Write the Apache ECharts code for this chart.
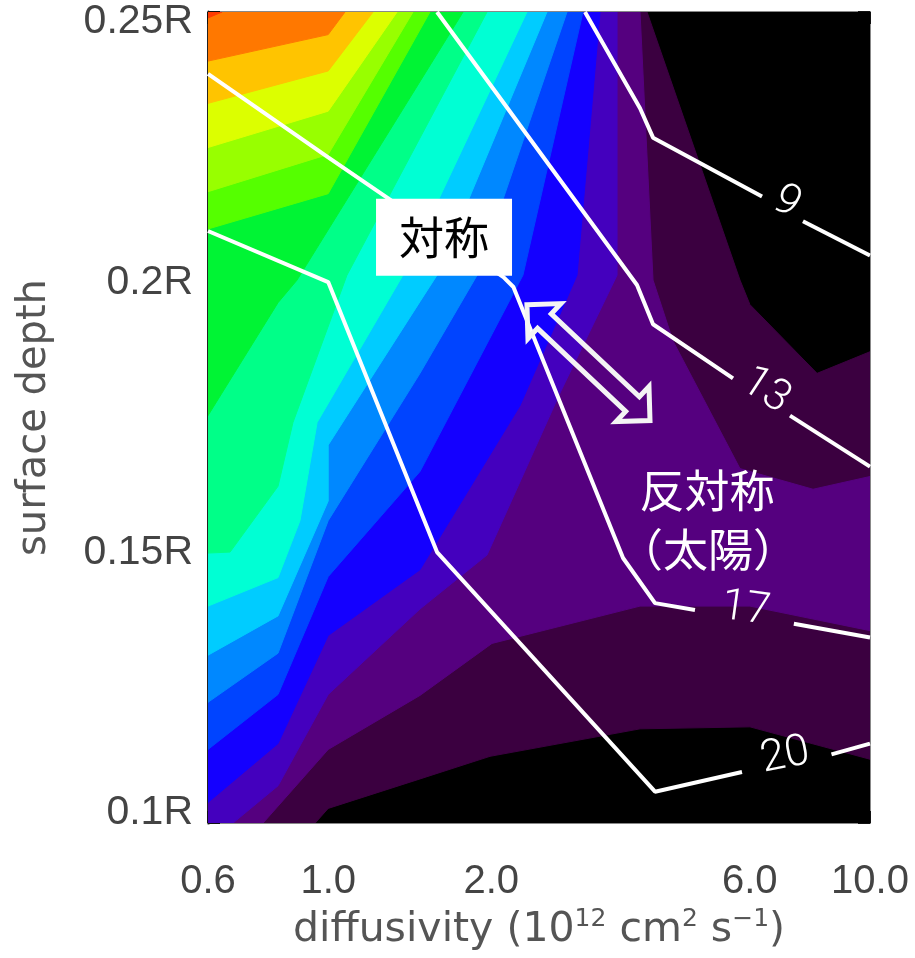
<!DOCTYPE html>
<html><head><meta charset="utf-8">
<script src="https://cdn.jsdelivr.net/npm/echarts@6/dist/echarts.min.js"></script>
<style>html,body{margin:0;padding:0;background:#fff}#c{width:915px;height:958px}</style>
</head><body><div id="c"></div>
<script>
// ---- axis ticks ----
const xTicks = [0.6, 1, 2, 6, 10];
const xTickLabels = ['0.6', '1.0', '2.0', '6.0', '10.0'];
const yTicks = [0.1, 0.15, 0.2, 0.25];
const yTickLabels = ['0.1R', '0.15R', '0.2R', '0.25R'];

// ---- filled contour levels: region at or above each level (diffusivity, depth) ----
const level0 = [[0.6,0.1],[10,0.1],[10,0.25],[0.6,0.25]];
const level1 = [[0.6,0.25],[3.877,0.25],[5.755,0.20042],[6.004,0.19588],[7.985,0.18317],[10,0.18717],[10,0.11181],[6.004,0.11780],[3.763,0.11743],[1.989,0.11235],[1.477,0.10817],[1.0,0.10272],[0.946,0.1],[0.6,0.1]];
const level2 = [[0.6,0.25],[3.763,0.25],[3.977,0.20042],[4.329,0.18917],[5.755,0.16556],[7.850,0.16174],[10,0.16410],[10,0.13559],[6.004,0.14013],[3.763,0.14013],[2.006,0.13323],[1.477,0.12361],[1.0,0.11362],[0.758,0.1],[0.6,0.1]];
const level3 = [[0.667,0.1],[0.808,0.10690],[1.0,0.12379],[1.477,0.13959],[1.964,0.14958],[2.678,0.17954],[3.413,0.20133],[3.413,0.25],[0.6,0.25],[0.6,0.1]];
const level4 = [[0.6,0.10381],[0.808,0.11471],[1.0,0.13469],[1.477,0.14685],[2.259,0.17718],[2.879,0.20133],[3.175,0.25],[0.6,0.25]];
const level5 = [[0.6,0.11362],[0.808,0.12379],[1.0,0.14558],[1.477,0.16501],[2.288,0.20133],[2.953,0.25],[0.6,0.25]];
const level6 = [[0.6,0.12234],[0.808,0.13142],[1.0,0.15593],[1.477,0.18317],[1.883,0.20133],[2.759,0.25],[0.6,0.25]];
const level7 = [[0.6,0.13105],[0.808,0.13832],[1.0,0.15956],[1.0,0.16991],[1.477,0.19643],[1.588,0.20133],[2.534,0.25],[0.6,0.25]];
const level8 = [[0.6,0.14013],[0.808,0.14540],[0.887,0.15593],[0.954,0.17409],[1.374,0.20133],[2.327,0.25],[0.6,0.25]];
const level9 = [[0.6,0.14994],[0.659,0.15012],[0.808,0.16229],[0.861,0.17409],[1.083,0.20133],[1.964,0.25],[0.6,0.25]];
const level10 = [[0.6,0.17536],[0.808,0.19625],[0.876,0.20042],[1.774,0.25],[0.6,0.25]];
const level11 = [[0.6,0.20987],[1.0,0.21640],[1.541,0.25],[0.6,0.25]];
const level12 = [[0.6,0.21677],[1.0,0.22367],[1.434,0.25],[0.6,0.25]];
const level13 = [[0.6,0.22494],[1.0,0.23166],[1.340,0.25],[0.6,0.25]];
const level14 = [[0.6,0.23311],[1.0,0.23910],[1.210,0.25],[0.6,0.25]];
const level15 = [[0.6,0.24092],[1.0,0.24582],[1.074,0.25],[0.6,0.25]];
const level16 = [[0.6,0.24891],[0.637,0.25],[0.6,0.25]];
const levelColors = ['#000000','#3b0040','#55007f','#4400be','#1400ff','#0044ff','#0088ff','#00ccff',
  '#00ffd4','#00ff88','#00f434','#55ff00','#98ff00','#dcff00','#ffc400','#ff7800','#ff3c00'];

// ---- white contour lines (null = gap where the label sits) ----
const contour9  = [[2.978,0.25],[3.763,0.23220],[3.977,0.22676],[6.320,0.21586],null,[7.521,0.21132],[10,0.20496]];
const contour13 = [[1.588,0.25],[3.715,0.19952],[3.977,0.19225],[5.587,0.18226],null,[7.118,0.17536],[10,0.16592]];
const contour17 = [[0.6,0.23856],[1.0,0.22312],[2.106,0.20097],[2.197,0.19915],[3.501,0.14903],[4.011,0.14068],[4.753,0.13941],null,[7.236,0.13687],[10,0.13432]];
const contour20 = [[0.6,0.20950],[1.0,0.20006],[1.588,0.15012],[4.011,0.10581],[5.804,0.10944],null,[8.490,0.11271],[10,0.11471]];
const contourNames = ['9', '13', '17', '20'];

// ---- annotations (anchors in data units) ----
const annotationTexts = ['対称', '反対称', '（太陽）'];
const annotationAnchors = [[1.636,0.20823],[5.003,0.16138],[5.024,0.15048]];
const arrowEnds = [[2.327,0.19588],[3.926,0.17445]];

const levels = [level0,level1,level2,level3,level4,level5,level6,level7,level8,level9,level10,level11,level12,level13,level14,level15,level16];
const contours = [contour9, contour13, contour17, contour20];

function tickLabel(v, ticks, labels) {
  let best = 0, bd = Infinity;
  ticks.forEach((t, i) => { const d = Math.abs(t - v); if (d < bd) { bd = d; best = i; } });
  return labels[best];
}

const series = [];
series.push({
  type: 'custom', coordinateSystem: 'cartesian2d', xAxisIndex: 0, yAxisIndex: 0,
  data: levels.map((_, k) => [1, 0.2, k]), encode: { x: 0, y: 1 },
  clip: true, silent: true, animation: false, z: 1,
  renderItem: (params, api) => {
    const k = params.dataIndex;
    return { type: 'polygon', z2: k,
      shape: { points: levels[k].map(p => api.coord(p)) },
      style: { fill: levelColors[k], stroke: levelColors[k], lineWidth: 1 } };
  }
});
contours.forEach(c => {
  let seg = [];
  const segs = [];
  c.forEach(p => { if (p === null) { segs.push(seg); seg = []; } else seg.push(p); });
  segs.push(seg);
  segs.forEach(s => series.push({
    type: 'line', data: s, showSymbol: false, symbol: 'none', silent: true, animation: false,
    clip: true, z: 3, lineStyle: { color: '#ffffff', width: 4 }
  }));
});
series.push({
  type: 'custom', coordinateSystem: 'cartesian2d', xAxisIndex: 0, yAxisIndex: 0,
  data: contours.map((_, i) => [1, 0.2, i]), encode: { x: 0, y: 1 },
  silent: true, animation: false, z: 4,
  renderItem: (params, api) => {
    const c = contours[params.dataIndex];
    const gi = c.indexOf(null);
    const a = api.coord(c[gi - 1]), b = api.coord(c[gi + 1]);
    const ang = Math.atan2(b[1] - a[1], b[0] - a[0]);
    return { type: 'text', x: (a[0] + b[0]) / 2, y: (a[1] + b[1]) / 2, rotation: -ang,
      style: { text: contourNames[params.dataIndex], x: 0, y: -7, fill: '#ffffff',
        font: '300 44px Roboto, "Liberation Sans", sans-serif', align: 'center', verticalAlign: 'middle' } };
  }
});
series.push({
  type: 'custom', coordinateSystem: 'cartesian2d', xAxisIndex: 0, yAxisIndex: 0,
  data: [[1, 0.2]], encode: { x: 0, y: 1 },
  silent: true, animation: false, z: 5,
  renderItem: (params, api) => {
    const box = api.coord(annotationAnchors[0]);
    const t1 = api.coord(annotationAnchors[1]);
    const t2 = api.coord(annotationAnchors[2]);
    const p0 = api.coord(arrowEnds[0]), p1 = api.coord(arrowEnds[1]);
    const dx = p1[0] - p0[0], dy = p1[1] - p0[1];
    const L = Math.hypot(dx, dy), ux = dx / L, uy = dy / L, vx = -uy, vy = ux;
    const h = 24, w = 24, s = 10;
    const loc = [[0,0],[h,-w],[h,-s],[L-h,-s],[L-h,-w],[L,0],[L-h,w],[L-h,s],[h,s],[h,w]];
    const pts = loc.map(([a, b]) => [p0[0] + a * ux + b * vx, p0[1] + a * uy + b * vy]);
    const jp = '"Noto Sans CJK JP", sans-serif';
    return { type: 'group', children: [
      { type: 'rect', shape: { x: box[0] - 68, y: box[1] - 39, width: 136, height: 77 }, style: { fill: '#ffffff' } },
      { type: 'text', x: box[0], y: box[1], style: { text: annotationTexts[0], fill: '#000', font: '45px ' + jp, align: 'center', verticalAlign: 'middle' } },
      { type: 'polygon', shape: { points: pts }, style: { fill: 'none', stroke: '#f4f4f4', lineWidth: 5, lineJoin: 'miter' } },
      { type: 'text', x: t1[0], y: t1[1], style: { text: annotationTexts[1], fill: '#fff', font: '45px ' + jp, align: 'center', verticalAlign: 'middle' } },
      { type: 'text', x: t2[0], y: t2[1], style: { text: annotationTexts[2], fill: '#fff', font: '45px ' + jp, align: 'center', verticalAlign: 'middle' } }
    ] };
  }
});

const axisTxt = '#444';
const option = {
  backgroundColor: '#ffffff',
  animation: false,
  grid: { left: 208, top: 12, width: 662, height: 826, containLabel: false },
  xAxis: [{
    type: 'log', logBase: 10, min: 0.6, max: 10, position: 'bottom', gridIndex: 0,
    axisLine: { show: true, onZero: false, lineStyle: { color: '#888', width: 2 } },
    axisTick: { show: true, inside: true, length: 12, customValues: xTicks, lineStyle: { color: '#111', width: 2 } },
    minorTick: { show: false }, splitLine: { show: false },
    axisLabel: { customValues: xTicks, formatter: v => tickLabel(v, xTicks, xTickLabels), margin: 39,
      color: axisTxt, fontSize: 40, fontFamily: '"Liberation Sans", Arial, sans-serif' },
    name: 'diffusivity (10{sup|12} cm{sup|2} s{sup|−1})', nameLocation: 'middle', nameGap: 71,
    nameTextStyle: { color: '#555', fontSize: 41, fontFamily: '"DejaVu Sans", sans-serif', lineHeight: 46,
      rich: { sup: { fontSize: 25, verticalAlign: 'top', lineHeight: 46, fontFamily: '"DejaVu Sans", sans-serif', color: '#555' } } }
  }, {
    type: 'log', logBase: 10, min: 0.6, max: 10, position: 'top', gridIndex: 0,
    axisLine: { show: true, onZero: false, lineStyle: { color: '#888', width: 2 } },
    axisTick: { show: true, inside: true, length: 12, customValues: xTicks, lineStyle: { color: '#111', width: 2 } },
    axisLabel: { show: false }, splitLine: { show: false }
  }],
  yAxis: [{
    type: 'value', min: 0.1, max: 0.25, position: 'left', gridIndex: 0,
    axisLine: { show: true, onZero: false, lineStyle: { color: '#222', width: 3 } },
    axisTick: { show: true, inside: true, length: 12, customValues: yTicks, lineStyle: { color: '#111', width: 2 } },
    splitLine: { show: false },
    axisLabel: { customValues: yTicks, formatter: v => tickLabel(v, yTicks, yTickLabels), margin: 15,
      color: axisTxt, fontSize: 41, lineHeight: 20, fontFamily: '"Liberation Sans", Arial, sans-serif',
      verticalAlignMinLabel: 'bottom', verticalAlignMaxLabel: 'top' },
    name: 'surface depth', nameLocation: 'middle', nameGap: 153, nameRotate: 90,
    nameTextStyle: { color: '#555', fontSize: 40, fontFamily: '"DejaVu Sans", sans-serif' }
  }, {
    type: 'value', min: 0.1, max: 0.25, position: 'right', gridIndex: 0,
    axisLine: { show: true, onZero: false, lineStyle: { color: '#888', width: 2 } },
    axisTick: { show: true, inside: true, length: 12, customValues: yTicks, lineStyle: { color: '#111', width: 2 } },
    axisLabel: { show: false }, splitLine: { show: false }
  }],
  series: series
};
const chart = echarts.init(document.getElementById('c'), null, { renderer: 'canvas' });
chart.setOption(option);
</script></body></html>
